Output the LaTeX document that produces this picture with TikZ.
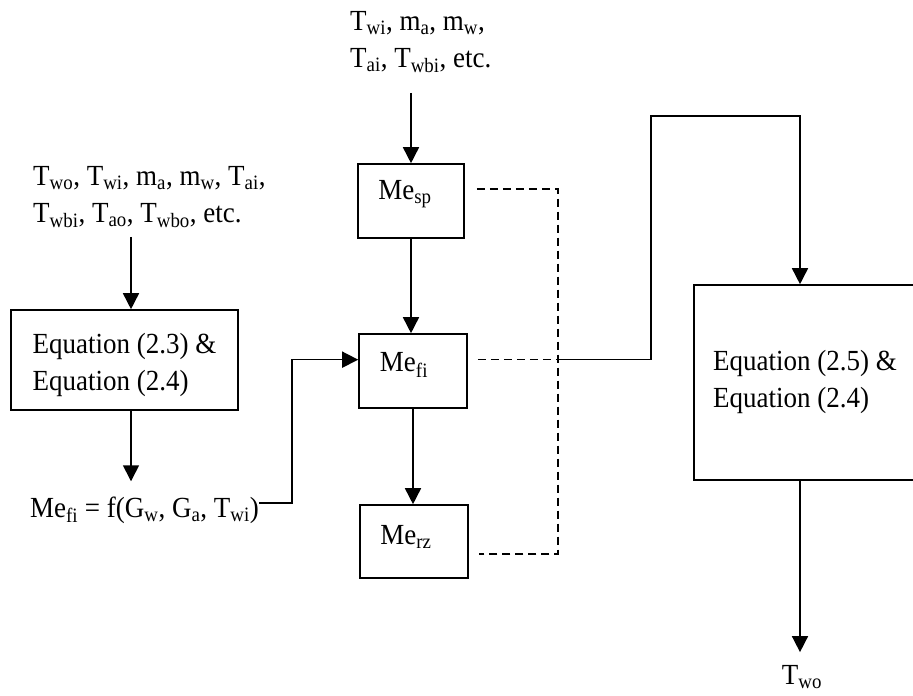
\documentclass[tikz,border=0pt]{standalone}
\usepackage{graphicx}
\usepackage{fontspec}
\setmainfont{Liberation Serif}
\usetikzlibrary{arrows.meta,calc}
\newcommand\sbs[1]{\textsubscript{#1}}
\newcommand\tall[1]{\scalebox{1}[1.08]{#1}}
\begin{document}
\begin{tikzpicture}[x=1pt,y=-1pt,
  every node/.style={font=\fontsize{27}{37}\selectfont, inner sep=0pt},
  box/.style={draw, line width=1.6pt},
  flow/.style={line width=1.6pt, -{Triangle[width=16pt,length=16pt]}},
  link/.style={line width=1.6pt},
  dashlink/.style={line width=1.6pt, dash pattern=on 8pt off 5pt}]
\useasboundingbox (0,0) rectangle (913,696);
\clip (0,0) rectangle (913,696);

% input texts
\node[align=left, anchor=west] (inL) at (33,197)
  {\tall{T\sbs{wo}, T\sbs{wi}, m\sbs{a}, m\sbs{w}, T\sbs{ai},}\\\tall{T\sbs{wbi}, T\sbs{ao}, T\sbs{wbo}, etc.}};
\node[align=left, anchor=west] (inT) at (350,42)
  {\tall{T\sbs{wi}, m\sbs{a}, m\sbs{w},}\\\tall{T\sbs{ai}, T\sbs{wbi}, etc.}};

% left equation box
\node[box, minimum width=227pt, minimum height=100pt] (eq1) at (124.5,360) {};
\node[align=left] (eq1t) at (124.5,365) {\tall{Equation (2.3) \&}\\\tall{Equation (2.4)}};
\node[anchor=base west] (mefieq) at (30,517) {\tall{Me\sbs{fi} = f(G\sbs{w}, G\sbs{a}, T\sbs{wi})}};

% middle boxes
\node[box, minimum width=106pt, minimum height=74pt] (sp) at (411,201) {};
\node (tsp) at (405,194) {\tall{Me\sbs{sp}}};
\node[box, minimum width=108pt, minimum height=74pt] (fi) at (413,371) {};
\node (tfi) at (404,365) {\tall{Me\sbs{fi}}};
\node[box, minimum width=108pt, minimum height=73pt] (rz) at (414,541.5) {};
\node (trz) at (406,537) {\tall{Me\sbs{rz}}};

% right box
\node[box, minimum width=241pt, minimum height=195pt] (eq2) at (814.5,382.5) {};
\node[align=left, anchor=west] (eq2t) at (713,382) {\tall{Equation (2.5) \&}\\\tall{Equation (2.4)}};
\node (two) at (802,677) {\tall{T\sbs{wo}}};

% helper coordinates
\coordinate (ax) at (131,0);
\coordinate (b1) at (292,503);
\coordinate (dx) at (558,0);
\coordinate (j1) at (651,116);
\coordinate (j2) at (800,116);
\coordinate (pin) at ($(fi.north west)!0.35!(fi.south west)$);
\coordinate (p1) at ($(sp.north east)!0.34!(sp.south east)+(12,0)$);
\coordinate (p2) at ($(fi.north east)!0.35!(fi.south east)+(10,0)$);
\coordinate (p3) at ($(rz.north east)!0.67!(rz.south east)+(10,0)$);

% left chain
\draw[flow, shorten <=9pt] (inL.south -| ax) -- (eq1.north -| ax);
\draw[flow, shorten >=15pt] (eq1.south -| ax) -- (mefieq.north -| ax);
\draw[flow] (b1 -| mefieq.east) -- (b1) |- (pin);

% middle chain
\draw[flow, shorten <=20pt] (inT.south -| sp.north) -- (sp.north);
\draw[flow] (sp.south) -- (sp.south |- fi.north);
\draw[flow] (fi.south) -- (fi.south |- rz.north);

% dashed collectors
\draw[dashlink] (p1) -- (p1 -| dx) -- (p3 -| dx) -- (p3);
\draw[dashlink] (p2) -- (p2 -| dx);

% to right box
\draw[flow] (p2 -| dx) -| (j1) -- (j2) -- (j2 |- eq2.north);
\draw[flow, shorten >=13pt] (eq2.south -| j2) -- (two.north -| j2);
\end{tikzpicture}
\end{document}
